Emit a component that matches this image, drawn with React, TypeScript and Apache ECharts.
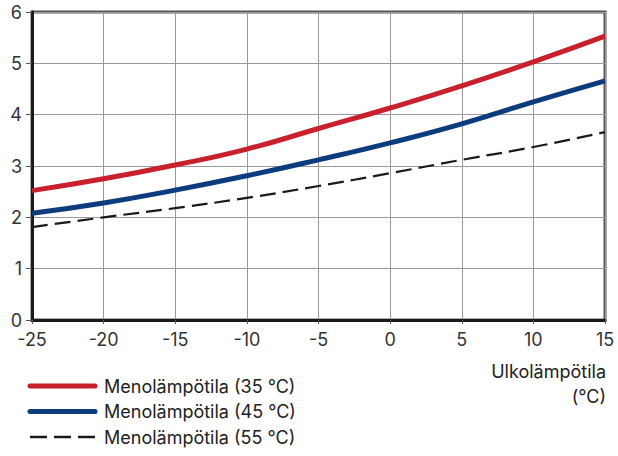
import React, { useEffect, useRef } from "react";
import * as echarts from "echarts";

const xValues = [-25, -20, -15, -10, -5, 0, 5, 10, 15];
const flow35 = [2.52, 2.75, 3.02, 3.33, 3.73, 4.13, 4.56, 5.03, 5.53];
const flow45 = [2.08, 2.28, 2.53, 2.81, 3.12, 3.45, 3.82, 4.25, 4.66];
const flow55 = [1.81, 2.0, 2.18, 2.38, 2.61, 2.86, 3.12, 3.37, 3.66];
const seriesNames = ["Menolämpötila (35 °C)", "Menolämpötila (45 °C)", "Menolämpötila (55 °C)"];
const axisName = ["Ulkolämpötila", "(°C)"];

const FONT = "Inter";

export default function App() {
  const ref = useRef<HTMLDivElement>(null);
  useEffect(() => {
    if (!ref.current) return;
    const chart = echarts.init(ref.current, null, { renderer: "svg" });
    const pairs = (ys: number[]) => xValues.map((x, i) => [x, ys[i]]);
    const legendItems = [
      { color: "#c9202e", width: 5, type: "solid" as const },
      { color: "#0c3c7e", width: 5, type: "solid" as const },
      { color: "#1a1a1a", width: 2.5, type: [17, 7] as any },
    ];
    const graphics: any[] = [];
    legendItems.forEach((it, i) => {
      const y = 386 + i * 25.5;
      graphics.push({
        type: "line",
        shape: { x1: 30, y1: y, x2: 95, y2: y },
        style: { stroke: it.color, lineWidth: it.width, lineCap: it.type === "solid" ? "round" : "butt", lineDash: it.type === "solid" ? null : it.type },
      });
      graphics.push({
        type: "text",
        x: 104,
        y: y,
        style: { text: seriesNames[i], font: `18px "${FONT}"`, fill: "#222", textVerticalAlign: "middle" },
      });
    });
    graphics.push({
      type: "text",
      right: 12,
      top: 359,
      style: { text: axisName.join("\n"), font: `18px "${FONT}"`, fill: "#222", textAlign: "right", lineHeight: 25 },
    });
    chart.setOption({
      animation: false,
      backgroundColor: "#fff",
      grid: { left: 32, right: 13, top: 12, bottom: 136, show: true, borderColor: "#555", borderWidth: 3, containLabel: false },
      xAxis: {
        type: "value",
        min: -25,
        max: 15,
        interval: 5,
        axisLine: { show: true, onZero: false, lineStyle: { color: "#1a1a1a", width: 3 } },
        axisTick: { show: true, length: 4, lineStyle: { color: "#555", width: 1 } },
        axisLabel: {
          fontFamily: FONT,
          fontSize: 18,
          color: "#333",
          margin: 10,
        },
        splitLine: { show: true, lineStyle: { color: "#9a9a9a", width: 1 } },
      },
      yAxis: {
        type: "value",
        min: 0,
        max: 6,
        interval: 1,
        axisLine: { show: true, onZero: false, lineStyle: { color: "#1a1a1a", width: 3 } },
        axisTick: { show: true, length: 6, lineStyle: { color: "#555", width: 1 } },
        axisLabel: { fontFamily: FONT, fontSize: 18, color: "#333", margin: 10 },
        splitLine: { show: true, lineStyle: { color: "#9a9a9a", width: 1 } },
      },
      series: [
        {
          name: seriesNames[2],
          type: "line",
          data: pairs(flow55),
          smooth: true,
          symbol: "none",
          lineStyle: { color: "#1a1a1a", width: 2.2, type: [16, 7] },
        },
        {
          name: seriesNames[1],
          type: "line",
          data: pairs(flow45),
          smooth: true,
          symbol: "none",
          lineStyle: { color: "#0c3c7e", width: 5 },
        },
        {
          name: seriesNames[0],
          type: "line",
          data: pairs(flow35),
          smooth: true,
          symbol: "none",
          lineStyle: { color: "#c9202e", width: 5 },
        },
      ],
      graphic: graphics,
    });
    return () => chart.dispose();
  }, []);
  return <div ref={ref} style={{ width: 618, height: 456, position: "absolute", left: 0, top: 0 }} />;
}
